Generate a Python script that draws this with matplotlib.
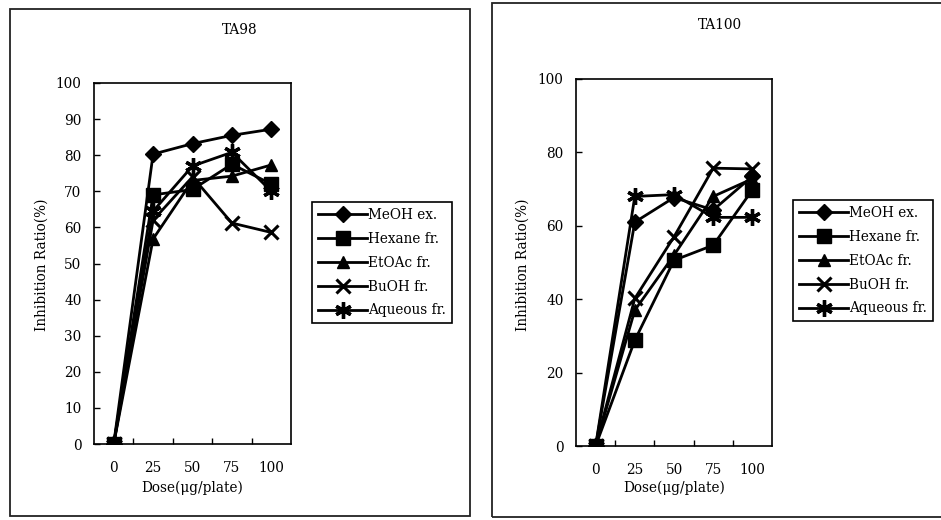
import matplotlib
matplotlib.use("Agg")
import matplotlib.pyplot as plt
from matplotlib.patches import Rectangle

# Data
doses = [0, 25, 50, 75, 100]
dose_labels = ["0", "25", "50", "75", "100"]
series_names = ["MeOH ex.", "Hexane fr.", "EtOAc fr.", "BuOH fr.", "Aqueous fr."]

ta98_meoh = [0, 80.3, 83.2, 85.5, 87.2]
ta98_hexane = [0, 69.0, 70.5, 77.5, 72.0]
ta98_etoac = [0, 56.8, 73.0, 74.2, 77.3]
ta98_buoh = [0, 62.0, 74.0, 61.2, 58.6]
ta98_aqueous = [0, 64.5, 77.0, 80.8, 70.0]

ta100_meoh = [0, 61.0, 67.7, 64.3, 73.5]
ta100_hexane = [0, 28.8, 50.6, 54.7, 69.8]
ta100_etoac = [0, 37.0, 52.0, 68.0, 72.8]
ta100_buoh = [0, 40.2, 57.0, 75.7, 75.5]
ta100_aqueous = [0, 68.0, 68.5, 62.3, 62.3]

plt.rcParams['font.family'] = ['DejaVu Serif']
FS = 9.8

W, H = 941, 520
fig = plt.figure(figsize=(W / 100, H / 100), dpi=100)


def px_axes(left, top, right, bottom):
    return fig.add_axes([left / W, 1 - bottom / H, (right - left) / W, (bottom - top) / H])


# outer frames of the two panels
fig.patches.append(Rectangle((10 / W, 1 - 516 / H), 460 / W, 507 / H, transform=fig.transFigure,
                             fill=False, edgecolor="#222222", linewidth=1.3))
fig.patches.append(Rectangle((492 / W, 1 - 517 / H), 460 / W, 514 / H, transform=fig.transFigure,
                             fill=False, edgecolor="#222222", linewidth=1.3))

styles = [
    dict(marker="D", markersize=8),
    dict(marker="s", markersize=10, zorder=3),  # square sits on top at dose 0
    dict(marker="^", markersize=9),
    dict(marker="x", markersize=10, markeredgewidth=2.2),
    dict(marker=(6, 2, 0), markersize=12, markeredgewidth=2.4),
]


def draw_panel(ax, data, title, yticks, title_xy, leg_xy, ylab_x, xlab_y):
    for name, vals, st in zip(series_names, data, styles):
        ax.plot(doses, vals, color="black", linewidth=2, label=name, **st)
    ax.set_xlim(-12.5, 112.5)
    ax.set_ylim(0, 100)
    ax.set_xticks(doses)
    ax.set_xticklabels(dose_labels, fontsize=FS)
    ax.set_xticks([12.5, 37.5, 62.5, 87.5], minor=True)
    ax.tick_params(axis="x", which="major", length=0, pad=12)
    ax.tick_params(axis="x", which="minor", direction="in", length=4, width=1)
    ax.set_yticks(yticks)
    ax.tick_params(axis="y", direction="in", length=4, width=1, labelsize=FS, pad=9)
    for sp in ax.spines.values():
        sp.set_linewidth(1.2)
    fig.text(title_xy[0] / W, 1 - title_xy[1] / H, title, ha="center", va="center", fontsize=FS)
    fig.text(ylab_x / W, 1 - 265 / H, "Inhibition Ratio(%)", rotation=90, ha="center", va="center",
             fontsize=FS)
    fig.text((ax.get_position().x0 + ax.get_position().x1) / 2, 1 - xlab_y / H, "Dose(μg/plate)",
             ha="center", va="center", fontsize=FS)
    ax.legend(loc="upper left", bbox_to_anchor=(leg_xy[0] / W, 1 - leg_xy[1] / H),
              bbox_transform=fig.transFigure, borderaxespad=0, fancybox=False,
              edgecolor="black", framealpha=1, fontsize=FS, handlelength=3.6,
              handletextpad=0.1, labelspacing=0.72, borderpad=0.45)
    ax.get_legend().get_frame().set_linewidth(1.2)


ax1 = px_axes(94, 83, 291, 444)
draw_panel(ax1, [ta98_meoh, ta98_hexane, ta98_etoac, ta98_buoh, ta98_aqueous], "TA98",
           list(range(0, 101, 10)), (240, 30), (312, 202), 42, 488)

ax2 = px_axes(576, 79, 772, 446)
draw_panel(ax2, [ta100_meoh, ta100_hexane, ta100_etoac, ta100_buoh, ta100_aqueous], "TA100",
           list(range(0, 101, 20)), (720, 25), (793, 200), 523, 488)

fig.savefig("out.png", dpi=100)
